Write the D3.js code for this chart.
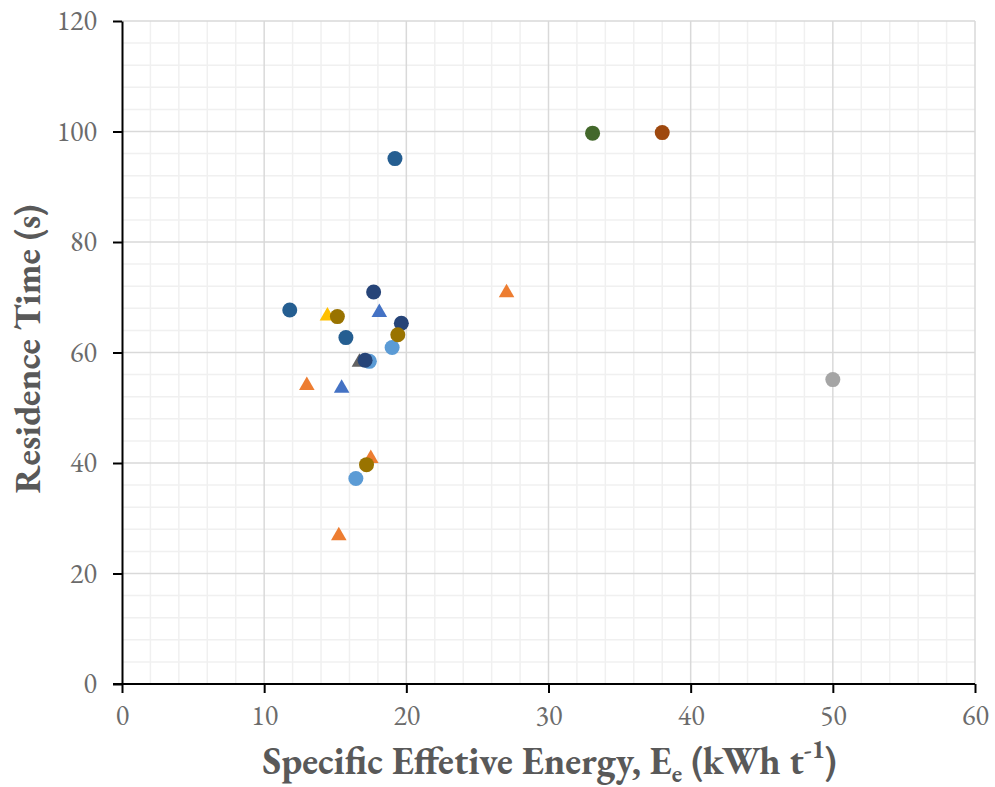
<!DOCTYPE html>
<html>
<head>
<meta charset="utf-8">
<script src="https://cdn.jsdelivr.net/npm/d3@7/dist/d3.min.js"></script>
<style>
  html, body { margin: 0; padding: 0; background: #fff; }
  svg { display: block; }
  text { font-family: "EB Garamond", Garamond, "Liberation Serif", "DejaVu Serif", serif; }
</style>
</head>
<body>
<svg id="chart" width="995" height="787"></svg>
<script>
// Axis ticks
const xTicks = [0, 10, 20, 30, 40, 50, 60];
const yTicks = [0, 20, 40, 60, 80, 100, 120];

// Series: [energy (kWh/t), residence time (s)]
const blueTri      = [[18.1, 67.4], [15.45, 53.7]];
const orangeTri    = [[13.0, 54.2], [27.05, 71.0], [17.5, 41.0], [15.25, 27.0]];
const grayTri      = [[16.7, 58.4]];
const goldTri      = [[14.45, 66.8]];
const lightBlueDot = [[19.0, 60.9], [17.4, 58.4], [16.45, 37.2]];
const steelBlueDot = [[19.2, 95.1], [11.8, 67.7], [15.75, 62.7]];
const navyDot      = [[17.7, 70.95], [19.65, 65.3], [17.1, 58.6]];
const oliveDot     = [[15.15, 66.5], [19.4, 63.2], [17.2, 39.7]];
const greenDot     = [[33.1, 99.7]];
const brownDot     = [[38.0, 99.8]];
const grayDot      = [[50.0, 55.1]];

const series = [
  { data: blueTri,      shape: "tri",    color: "#4472C4" },
  { data: orangeTri,    shape: "tri",    color: "#ED7D31" },
  { data: grayTri,      shape: "tri",    color: "#636363" },
  { data: goldTri,      shape: "tri",    color: "#FFC000" },
  { data: lightBlueDot, shape: "circle", color: "#5B9BD5" },
  { data: steelBlueDot, shape: "circle", color: "#255E91" },
  { data: navyDot,      shape: "circle", color: "#264478" },
  { data: oliveDot,     shape: "circle", color: "#997300" },
  { data: greenDot,     shape: "circle", color: "#43682B" },
  { data: brownDot,     shape: "circle", color: "#9E480E" },
  { data: grayDot,      shape: "circle", color: "#A5A5A5" }
];

const svg = d3.select("#chart");
const plotL = 122, plotR = 975, plotT = 21, plotB = 684;

const x = d3.scaleLinear().domain([0, 60]).range([plotL, plotR]);
const y = d3.scaleLinear().domain([0, 120]).range([plotB, plotT]);

// Minor grid
const grid = svg.append("g");
grid.selectAll("line.mx").data(d3.range(2, 61, 2).filter(v => v % 10 !== 0))
  .join("line").attr("class", "mx").attr("x1", d => x(d)).attr("x2", d => x(d))
  .attr("y1", plotT).attr("y2", plotB)
  .attr("stroke", "#F0F0F0").attr("stroke-width", 1.5);
grid.selectAll("line.my").data(d3.range(4, 121, 4).filter(v => v % 20 !== 0))
  .join("line").attr("class", "my").attr("y1", d => y(d)).attr("y2", d => y(d))
  .attr("x1", plotL).attr("x2", plotR)
  .attr("stroke", "#F0F0F0").attr("stroke-width", 1.5);
// Major grid
grid.selectAll("line.Mx").data(xTicks.slice(1))
  .join("line").attr("class", "Mx").attr("x1", d => x(d)).attr("x2", d => x(d))
  .attr("y1", plotT).attr("y2", plotB)
  .attr("stroke", "#D9D9D9").attr("stroke-width", 1.5);
grid.selectAll("line.My").data(yTicks.slice(1))
  .join("line").attr("class", "My").attr("y1", d => y(d)).attr("y2", d => y(d))
  .attr("x1", plotL).attr("x2", plotR)
  .attr("stroke", "#D9D9D9").attr("stroke-width", 1.5);

// Axes
const xAxis = svg.append("g").attr("transform", `translate(0,${plotB})`)
  .call(d3.axisBottom(x).tickValues(xTicks).tickSize(9).tickPadding(12).tickSizeOuter(0));
const yAxis = svg.append("g").attr("transform", `translate(${plotL},0)`)
  .call(d3.axisLeft(y).tickValues(yTicks).tickSize(9).tickPadding(16).tickSizeOuter(0));
[xAxis, yAxis].forEach(a => {
  a.attr("font-family", null).attr("font-size", null);
  a.select(".domain").attr("stroke", "#000").attr("stroke-width", 2);
  a.selectAll(".tick line").attr("stroke", "#000").attr("stroke-width", 2);
  a.selectAll(".tick text").attr("fill", "#6B6B6B").style("font-size", "28px");
});
// x axis line extends a little left of the y axis
xAxis.select(".domain").attr("d", `M${plotL - 9},0H${plotR}`);

// Markers
const tri = d3.symbol().type(d3.symbolTriangle).size(105);
series.forEach(s => {
  const g = svg.append("g");
  if (s.shape === "circle") {
    g.selectAll("circle").data(s.data).join("circle")
      .attr("cx", d => x(d[0])).attr("cy", d => y(d[1])).attr("r", 7.5)
      .attr("fill", s.color);
  } else {
    g.selectAll("path").data(s.data).join("path")
      .attr("d", tri)
      .attr("transform", d => `translate(${x(d[0])},${y(d[1]) + 1})`)
      .attr("fill", s.color);
  }
});

// Axis titles
const xt = svg.append("text")
  .attr("x", (plotL + plotR) / 2 + 1).attr("y", 774)
  .attr("text-anchor", "middle").attr("fill", "#595959")
  .attr("font-weight", "bold").style("font-size", "38px");
xt.append("tspan").text("Specific Effetive Energy, E");
xt.append("tspan").attr("baseline-shift", "-30%").style("font-size", "25px").text("e");
xt.append("tspan").text(" (kWh t");
xt.append("tspan").attr("baseline-shift", "super").style("font-size", "25px").text("-1");
xt.append("tspan").text(")");

svg.append("text")
  .attr("transform", `translate(40,349) rotate(-90)`)
  .attr("text-anchor", "middle").attr("fill", "#595959")
  .attr("font-weight", "bold").style("font-size", "37px")
  .text("Residence Time (s)");
</script>
</body>
</html>
